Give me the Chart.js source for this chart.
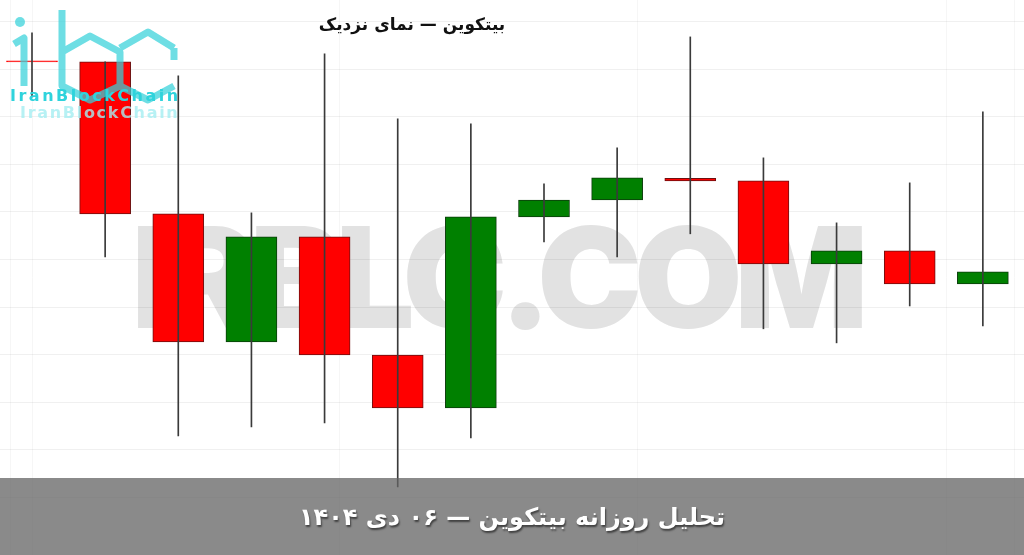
<!DOCTYPE html>
<html lang="fa">
<head>
<meta charset="utf-8">
<title>بیتکوین — نمای نزدیک</title>
<script src="https://cdn.jsdelivr.net/npm/chart.js@4.4.1/dist/chart.umd.min.js"></script>
<style>
    html, body {
        margin: 0;
        padding: 0;
        background: #ffffff;
        overflow: hidden;
    }

    .frame {
        position: relative;
        width: 1024px;
        height: 555px;
        background: #ffffff;
        overflow: hidden;
    }

    .watermark {
        position: absolute;
        left: 0;
        top: 207px;
        width: 992px;
        text-align: center;
        font-family: Inter, "DejaVu Sans", sans-serif;
        font-weight: 900;
        font-size: 140px;
        line-height: 140px;
        letter-spacing: -8px;
        color: #e2e2e2;
        white-space: nowrap;
    }

    .chart-box {
        position: absolute;
        left: 0;
        top: 0;
        width: 1024px;
        height: 555px;
    }

    .logo {
        position: absolute;
        left: 0;
        top: 0;
        width: 200px;
        height: 130px;
        opacity: 0.72;
    }

    .logo-text {
        position: absolute;
        left: 10px;
        top: 86px;
        font-family: "DejaVu Sans", sans-serif;
        font-weight: bold;
        font-size: 16px;
        letter-spacing: 2.5px;
        color: #2fd3dc;
        white-space: nowrap;
    }

    .logo-text.shadow {
        left: 20px;
        top: 103px;
        letter-spacing: 1.7px;
        color: #a6eef2;
        opacity: 0.8;
    }

    .title {
        position: absolute;
        left: 302px;
        top: 14px;
        width: 220px;
        text-align: center;
        direction: rtl;
        font-family: "DejaVu Sans", sans-serif;
        font-weight: bold;
        font-size: 17px;
        color: #111111;
    }

    .banner {
        position: absolute;
        left: 0;
        top: 478px;
        width: 1024px;
        height: 77px;
        background: rgba(100,100,100,0.755);
        text-align: center;
    }

    .banner span {
        display: inline-block;
        margin-top: 25px;
        direction: rtl;
        font-family: "DejaVu Sans", sans-serif;
        font-weight: bold;
        font-size: 24px;
        color: #ffffff;
        text-shadow: 1px 2px 2px rgba(0,0,0,0.55);
    }
</style>
</head>
<body>

<div class="frame">

    <div class="watermark">IRBLC.COM</div>

    <div class="chart-box">
        <canvas id="candleChart" width="1024" height="555"></canvas>
    </div>

    <svg class="logo" viewBox="0 0 200 130" xmlns="http://www.w3.org/2000/svg">
        <g fill="none" stroke="#36d2da" stroke-width="7" stroke-linejoin="round">
            <!-- i -->
            <polyline points="14,44 24,38 24,86"/>
            <!-- b -->
            <polyline points="62,10 62,86 90,100 120,86 120,52 90,36 62,52"/>
            <!-- c -->
            <polyline points="174,48 148,32 120,48"/>
            <polyline points="120,86 148,100 174,86"/>
            <line x1="174" y1="48" x2="174" y2="60"/>
        </g>
        <circle cx="20" cy="22" r="5" fill="#36d2da"/>
    </svg>

    <div class="logo-text">IranBlockChain</div>
    <div class="logo-text shadow">IranBlockChain</div>

    <div class="title">بیتکوین — نمای نزدیک</div>

    <div class="banner">
        <span>تحلیل روزانه بیتکوین — ۰۶ دی ۱۴۰۴</span>
    </div>

</div>

<script>
/* ============================================
   CANDLE DATA
============================================ */

const candleIndex = [0, 1, 2, 3, 4, 5, 6, 7, 8, 9, 10, 11, 12, 13];

const opens  = [88634, 88630, 87992, 87454, 87895, 87399, 87177, 87979, 88050, 88141, 88130, 87782, 87836, 87698];
const highs  = [88752, 88630, 88571, 87996, 88664, 88391, 88370, 88118, 88269, 88735, 88227, 87954, 88122, 88420];
const lows   = [88483, 87811, 87059, 87097, 87114, 86845, 87051, 87874, 87811, 87908, 87509, 87450, 87605, 87521];
const closes = [88630, 87992, 87454, 87895, 87399, 87177, 87979, 88050, 88143, 88130, 87782, 87836, 87698, 87748];

const yGridStep = 200;

/* =========================
   COLOURS
========================= */

const upColor = '#008000';
const downColor = '#ff0000';
const upBorder = '#0b3d0b';
const downBorder = '#6e0f0f';
const wickColor = '#3a3a3a';

const isUp = candleIndex.map(i => closes[i] >= opens[i]);

/* =========================
   CHART
========================= */

const candleCanvas = document.getElementById('candleChart');

if (candleCanvas) {

    new Chart(candleCanvas, {
        type: 'bar',

        data: {
            datasets: [
                {
                    label: 'wick',
                    data: candleIndex.map(i => ({ x: i, y: [lows[i], highs[i]] })),
                    backgroundColor: wickColor,
                    barThickness: 1,
                    grouped: false,
                    order: 0
                },
                {
                    label: 'body',
                    data: candleIndex.map(i => ({ x: i, y: [opens[i], closes[i]] })),
                    backgroundColor: isUp.map(u => u ? upColor : downColor),
                    borderColor: candleIndex.map(i => i === 0 ? downColor : (isUp[i] ? upBorder : downBorder)),
                    borderWidth: 1,
                    borderSkipped: false,
                    barThickness: 51,
                    grouped: false,
                    order: 1
                }
            ]
        },

        options: {
            responsive: false,
            animation: false,

            layout: {
                padding: 0
            },

            plugins: {
                legend: { display: false },
                tooltip: { enabled: false }
            },

            scales: {

                x: {
                    type: 'linear',
                    offset: false,
                    min: -0.4375,
                    max: 13.5625,

                    afterBuildTicks: function(scale){
                        scale.ticks = [-0.3, 0, 4.2, 8.28, 12.5, 13.43].map(v => ({ value: v }));
                    },

                    ticks: { display: false },
                    border: { display: false },

                    grid: {
                        offset: false,
                        color: 'rgba(0,0,0,0.035)',
                        drawTicks: false
                    }
                },

                y: {
                    min: 86559,
                    max: 88890,

                    ticks: {
                        display: false,
                        stepSize: yGridStep
                    },

                    border: { display: false },

                    grid: {
                        drawTicks: false,
                        color: function(ctx){
                            const v = ctx.tick ? ctx.tick.value : 0;
                            return (v % yGridStep === 0)
                                ? 'rgba(0,0,0,0.06)'
                                : 'rgba(0,0,0,0)';
                        }
                    }
                }

            }
        }
    });
}
</script>

</body>
</html>
